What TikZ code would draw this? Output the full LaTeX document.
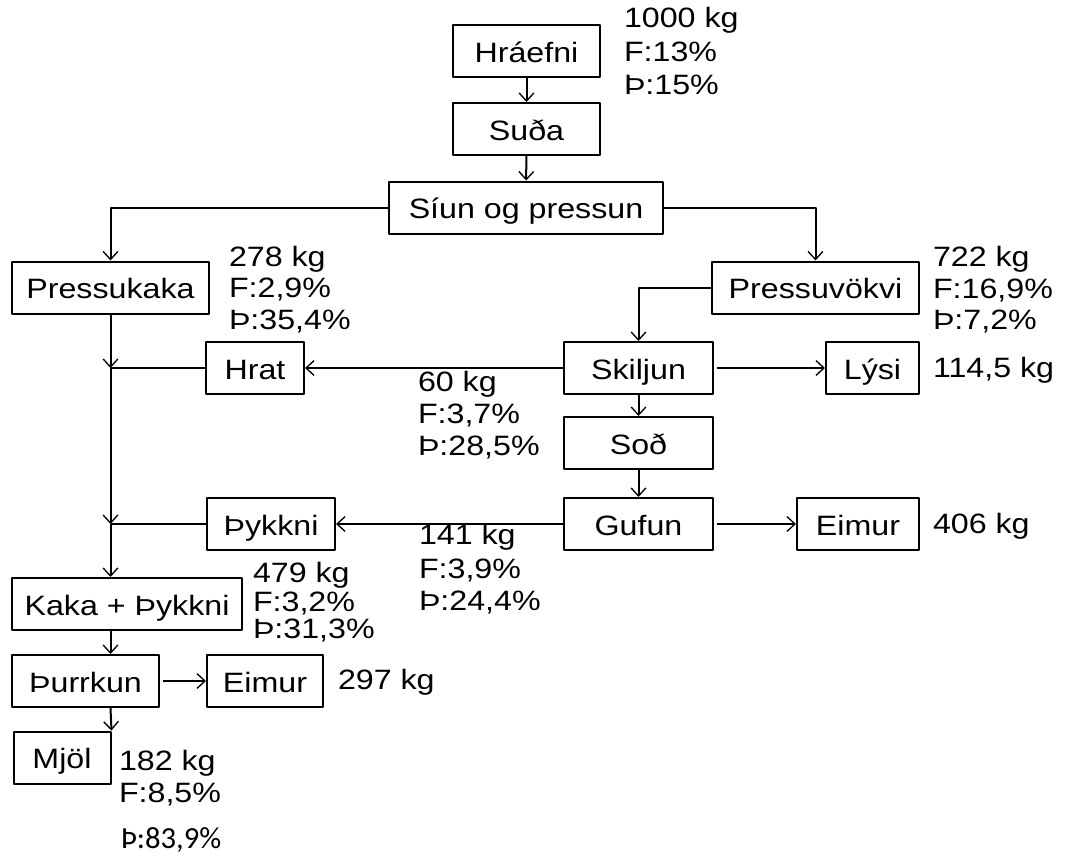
\documentclass[tikz,border=0pt]{standalone}
\usepackage{fontspec}
\setmainfont{Liberation Sans}[FakeStretch=1.15]
\newfontfamily\calfont{Carlito}
\usetikzlibrary{arrows.meta}

\begin{document}
\begin{tikzpicture}[x=0.75pt, y=-0.75pt, line width=1.5pt, line join=round,
	font=\fontsize{21}{25}\selectfont,
	>={Straight Barb[length=6pt,width=11pt,line width=1pt]},
	stage/.style={draw, minimum height=39pt, inner sep=0pt, text height=19pt, text depth=2pt},
	data/.style={anchor=base west, inner sep=0pt}]
	\useasboundingbox (0,0) rectangle (1066,856);
	% process steps
	\node[stage, minimum width=110pt] (hraefni) at (526.5,51.5) {Hráefni};
	\node[stage, minimum width=110pt] (suda) at (526.5,129) {Suða};
	\node[stage, minimum width=205.5pt] (siun) at (526,207.5) {Síun og pressun};
	\node[stage, minimum width=147.75pt] (pkaka) at (110.5,287.5) {Pressukaka};
	\node[stage, minimum width=155.25pt] (pvokvi) at (815.5,287.5) {Pressuvökvi};
	\node[stage, minimum width=73.5pt] (hrat) at (255,368) {Hrat};
	\node[stage, minimum width=111.75pt] (skiljun) at (638.5,368) {Skiljun};
	\node[stage, minimum width=69.75pt] (lysi) at (872.5,368) {Lýsi};
	\node[stage, minimum width=111.75pt] (sod) at (638.5,443) {Soð};
	\node[stage, minimum width=111.75pt] (gufun) at (638.5,524) {Gufun};
	\node[stage, minimum width=96pt] (thykkni) at (271,524) {Þykkni};
	\node[stage, minimum width=91.5pt] (eimur1) at (858,524) {Eimur};
	\node[stage, minimum width=172.5pt] (kthykkni) at (127,604) {Kaka + Þykkni};
	\node[stage, minimum width=110.25pt] (thurrkun) at (85.5,681) {Þurrkun};
	\node[stage, minimum width=87pt] (eimur2) at (265,681) {Eimur};
	\node[stage, minimum width=72.75pt] (mjol) at (62,757.5) {Mjöl};
	% flows
	\coordinate (j1) at (pkaka.south |- hrat.west);
	\coordinate (j2) at (pkaka.south |- thykkni.west);
	\draw[->] (hraefni) -- (suda);
	\draw[->] (suda) -- (siun);
	\draw[->] (siun.west) -| (pkaka.north);
	\draw[->] (siun.east) -| (pvokvi.north);
	\draw[->] (pvokvi.west) -| (skiljun.north);
	\draw[->] (skiljun) -- (hrat);
	\draw[->, shorten <=2pt] (skiljun) -- (lysi);
	\draw[->] (skiljun) -- (sod);
	\draw[->] (sod) -- (gufun);
	\draw[->] (gufun) -- (thykkni);
	\draw[->, shorten <=2pt] (gufun) -- (eimur1);
	\draw[->] (pkaka) -- (j1);
	\draw (hrat) -- (j1);
	\draw[->] (j1) -- (j2);
	\draw (thykkni) -- (j2);
	\draw[->] (j2) -- (j2 |- kthykkni.north);
	\draw[->] (j2 |- kthykkni.south) -- (j2 |- thurrkun.north);
	\draw[->, shorten <=2pt] (thurrkun) -- (eimur2);
	\draw[->] (j2 |- thurrkun.south) -- (mjol.north east);
	% mass and fractions
	\foreach \n/\x/\y/\t in {d1/623/28/{1000 kg}, d2/623/61/{F:13\%}, d3/623/94/{Þ:15\%},
		d4/228/266/{278 kg}, d5/228/297/{F:2,9\%}, d6/228/329/{Þ:35,4\%},
		d7/932/266/{722 kg}, d8/932/298/{F:16,9\%}, d9/932/329/{Þ:7,2\%},
		d10/932/377/{114,5 kg},
		d11/417/391/{60 kg}, d12/417/423/{F:3,7\%}, d13/417/455/{Þ:28,5\%},
		d14/932/533/{406 kg},
		d15/418/544/{141 kg}, d16/418/578/{F:3,9\%}, d17/418/610/{Þ:24,4\%},
		d18/252/582/{479 kg}, d19/252/611/{F:3,2\%}, d20/252/638/{Þ:31,3\%},
		d21/337/689/{297 kg},
		d22/118/770/{182 kg}, d23/118/802/{F:8,5\%}}
		{\node[data] (\n) at (\x,\y) {\t};}
	\node[data, font=\calfont\fontsize{23}{27}\selectfont] (d24) at (120,848) {Þ:83,9\%};
\end{tikzpicture}
\end{document}
